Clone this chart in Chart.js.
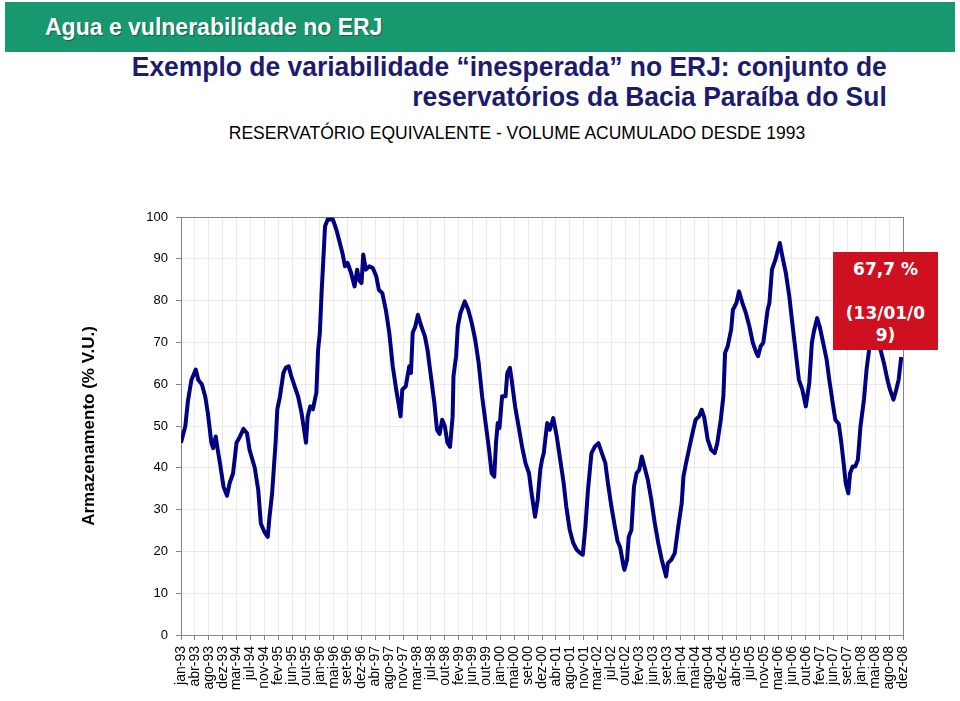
<!DOCTYPE html>
<html>
<head>
<meta charset="utf-8">
<script src="https://cdn.jsdelivr.net/npm/chart.js"></script>
<style>
  html, body { margin: 0; padding: 0; background: #fff; }
  #slide { position: relative; width: 960px; height: 701px; overflow: hidden; background: #fff; }
  #header {
    position: absolute; left: 5px; top: 2px; width: 950px; height: 50px;
    background: #17986f; color: #fff;
    font: bold 23px 'Liberation Sans', Arial, sans-serif; line-height: 50px;
    padding-left: 40px; box-sizing: border-box;
    text-shadow: 1px 1px 1px rgba(0,0,0,0.35);
  }
  #title {
    position: absolute; right: 73px; top: 52px; text-align: right;
    font: bold 28px 'Liberation Sans', Arial, sans-serif;
    line-height: 30px; color: #1c1c6e; white-space: nowrap;
    transform: scaleX(0.944); transform-origin: right top;
  }
  #subtitle {
    position: absolute; left: 37px; top: 123px; width: 960px; text-align: center;
    font: 17.5px 'Liberation Sans', Arial, sans-serif; line-height: 20px; color: #000;
  }
  #wrap { position: absolute; left: 0; top: 150px; width: 960px; height: 551px; }
  #callout {
    position: absolute; left: 833px; top: 252px; width: 105px; height: 98px;
    background: #cf1020; color: #fff; text-align: center;
    font: bold 17px 'DejaVu Sans', Verdana, sans-serif; line-height: 22px;
    padding-top: 6px; box-sizing: border-box; z-index: 2;
  }
</style>
</head>
<body>
<div id="slide">
  <div id="header">Agua e vulnerabilidade no ERJ</div>
  <div id="title">Exemplo de variabilidade “inesperada” no ERJ: conjunto de<br>reservatórios da Bacia Paraíba do Sul</div>
  <div id="subtitle">RESERVATÓRIO EQUIVALENTE - VOLUME ACUMULADO DESDE 1993</div>
  <div id="wrap"><canvas id="chartVolume"></canvas></div>
  <div id="callout">67,7 %<br><br>(13/01/0<br>9)</div>
</div>
<script>
(function () {
  'use strict';

  // x tick labels, one every 16 weeks starting jan-93
  var TICK_LABELS = ['jan-93', 'abr-93', 'ago-93', 'dez-93', 'mar-94', 'jul-94', 'nov-94', 'fev-95', 'jun-95', 'out-95',
    'jan-96', 'mai-96', 'set-96', 'dez-96', 'abr-97', 'ago-97', 'nov-97', 'mar-98', 'jul-98', 'out-98',
    'fev-99', 'jun-99', 'out-99', 'jan-00', 'mai-00', 'set-00', 'dez-00', 'abr-01', 'ago-01', 'nov-01',
    'mar-02', 'jul-02', 'out-02', 'fev-03', 'jun-03', 'set-03', 'jan-04', 'mai-04', 'ago-04', 'dez-04',
    'abr-05', 'jul-05', 'nov-05', 'mar-06', 'jun-06', 'out-06', 'fev-07', 'jun-07', 'set-07', 'jan-08',
    'mai-08', 'ago-08', 'dez-08'];
  var WEEKS_PER_TICK = 16;

  // week index since jan-93
  var WEEKS = [0, 5, 8, 12, 17, 20, 24, 28, 31, 35, 37, 40, 42, 45, 49, 53, 56, 60, 64, 68,
    72, 76, 79, 85, 89, 92, 96, 100, 102, 105, 109, 111, 114, 118, 121, 124, 127, 131, 135, 139,
    143, 144, 146, 149, 152, 156, 158, 160, 162, 165, 166, 169, 175, 179, 182, 186, 189, 192, 196, 200,
    203, 205, 208, 210, 213, 217, 221, 225, 228, 232, 236, 240, 244, 248, 251, 253, 255, 259, 263, 265,
    267, 270, 273, 277, 281, 284, 288, 292, 295, 298, 301, 304, 307, 310, 313, 314, 317, 319, 322, 327,
    331, 335, 339, 343, 347, 351, 355, 358, 361, 363, 365, 367, 370, 374, 376, 379, 381, 385, 389, 393,
    397, 401, 404, 408, 411, 414, 416, 418, 422, 425, 429, 433, 437, 441, 444, 448, 452, 456, 460, 463,
    466, 469, 473, 477, 481, 485, 489, 492, 496, 500, 503, 506, 510, 511, 514, 516, 519, 522, 525, 528,
    531, 534, 538, 542, 546, 550, 554, 557, 559, 561, 565, 569, 573, 577, 579, 582, 586, 589, 593, 597,
    600, 603, 607, 611, 615, 618, 622, 625, 627, 630, 634, 636, 640, 643, 647, 651, 655, 659, 663, 665,
    668, 671, 676, 678, 681, 685, 687, 690, 693, 697, 701, 704, 708, 712, 716, 720, 724, 727, 729, 733,
    736, 740, 744, 747, 751, 754, 758, 761, 764, 766, 769, 771, 774, 777, 780, 783, 787, 790, 793, 799,
    806, 810, 814, 817, 821, 824, 827, 830];

  // armazenamento (% V.U.)
  var VOLUME = [46, 50, 56, 61, 63.5, 61, 60, 57, 53, 46, 44.7, 47.5, 44.7, 41, 35.5, 33.3, 36.3, 38.7, 46, 47.5,
    49.3, 48.3, 44.3, 40, 34.7, 26.7, 24.7, 23.5, 28.3, 33.9, 46, 54, 57, 62.7, 64, 64.3, 62, 59.5, 57, 53,
    47.5, 46, 52.3, 54.7, 54, 58, 68.3, 72.3, 81.8, 93.8, 97.8, 99.4, 99.4, 97, 94.6, 91.4, 88.2, 89, 86.6, 83.4,
    87.4, 85, 84.2, 91, 87.4, 88.2, 87.8, 85.8, 82.6, 81.8, 77.8, 72.3, 64.3, 58.7, 55, 52.3, 58.7, 59.5, 64.3, 62.7,
    72.3, 73.8, 76.6, 73.8, 71.5, 68.3, 61.9, 55.5, 49.1, 48.1, 51.5, 50, 46, 45, 52.3, 61.9, 66.7, 73.8, 77, 79.8,
    77.8, 74.7, 70.7, 65.1, 57.1, 50.7, 44.3, 38.7, 37.9, 46, 50.7, 49.5, 57.1, 57.1, 62.7, 63.9, 61.1, 54.7, 49.9, 45.1,
    41.1, 38.7, 33.9, 28.3, 32.3, 39.5, 41.9, 43.5, 50.7, 49.1, 51.9, 47.5, 41.9, 36.3, 30.7, 25.1, 22, 20.4, 19.6, 19.2,
    25.9, 34.7, 43.5, 45.1, 45.9, 43.5, 41.1, 36.3, 30.7, 25.9, 22.5, 21, 16.4, 15.6, 18, 23.5, 25.1, 35.5, 38.7, 39.5,
    42.7, 40.3, 37.1, 32.3, 26.7, 22, 18, 15.6, 14, 17.2, 18, 19.6, 25.9, 31.5, 37.9, 41.1, 45, 47.9, 51.5, 52.3,
    53.9, 52, 46.7, 44.3, 43.5, 45.9, 51.5, 57.1, 67.5, 69.1, 73.1, 77.8, 79.4, 82.2, 79.4, 77, 73.8, 69.9, 67.5, 66.7,
    69.1, 69.9, 77.8, 79.4, 87.4, 89.8, 91.4, 93.8, 90.6, 86.6, 81, 75.4, 68.3, 61.1, 58.7, 54.7, 60.3, 69.9, 72.3, 75.8,
    73.8, 69.9, 65.9, 61.1, 55.5, 51.5, 50.5, 45.9, 40.3, 36.3, 33.9, 38.7, 40.3, 40.3, 41.9, 49.9, 56.3, 63.5, 68.3, 73,
    68.3, 65.1, 61.1, 58.7, 56.3, 58.5, 61.1, 66.5];

  var Y_TICK_STEP = 10;

  var C = {
    line: '#000080',
    grid: '#e9e9ef',
    axis: '#858585',
    text: '#000'
  };

  var FONT = "'Liberation Sans', Arial, sans-serif";

  var points = WEEKS.map(function (w, i) { return { x: w, y: VOLUME[i] }; });

  // grey frame round the plot area (top and right edges of the Excel plot)
  var plotFrame = {
    id: 'plotFrame',
    beforeDatasetsDraw: function (chart) {
      var a = chart.chartArea, ctx = chart.ctx;
      ctx.save();
      ctx.strokeStyle = C.axis;
      ctx.lineWidth = 1;
      ctx.strokeRect(Math.round(a.left) + 0.5, Math.round(a.top) + 0.5,
        Math.round(a.right - a.left), Math.round(a.bottom - a.top));
      ctx.restore();
    }
  };

  new Chart(document.getElementById('chartVolume').getContext('2d'), {
    type: 'line',
    data: {
      datasets: [{
        label: 'Armazenamento',
        data: points,
        borderColor: C.line,
        borderWidth: 4,
        borderJoinStyle: 'round',
        pointRadius: 0,
        tension: 0,
        fill: false
      }]
    },
    plugins: [plotFrame],
    options: {
      responsive: true,
      maintainAspectRatio: false,
      animation: false,
      layout: { padding: { top: 67, right: 57, left: 0, bottom: 0 } },
      plugins: {
        legend: { display: false },
        tooltip: { enabled: false }
      },
      scales: {
        x: {
          type: 'linear',
          min: 0,
          max: (TICK_LABELS.length - 1) * WEEKS_PER_TICK,
          afterBuildTicks: function (scale) {
            scale.ticks = TICK_LABELS.map(function (_, i) { return { value: i * WEEKS_PER_TICK }; });
          },
          afterFit: function (scale) { scale.height = 66; },
          grid: { color: C.grid, tickColor: C.axis, tickLength: 5 },
          border: { color: C.axis },
          ticks: {
            autoSkip: false,
            minRotation: 90,
            maxRotation: 90,
            padding: 6,
            color: C.text,
            font: { family: FONT, size: 14 },
            callback: function (v) { return TICK_LABELS[Math.round(v / WEEKS_PER_TICK)]; }
          }
        },
        y: {
          min: 0,
          max: 100,
          afterFit: function (scale) { scale.width = 181; },
          grid: { color: C.grid, tickColor: C.axis, tickLength: 5 },
          border: { color: C.axis },
          ticks: {
            stepSize: Y_TICK_STEP,
            padding: 8,
            color: C.text,
            font: { family: FONT, size: 13 }
          },
          title: {
            display: true,
            text: 'Armazenamento (% V.U.)',
            color: C.text,
            padding: { top: 79, bottom: 0 },
            font: { family: FONT, size: 17, weight: 'bold' }
          }
        }
      }
    }
  });
})();
</script>
</body>
</html>
